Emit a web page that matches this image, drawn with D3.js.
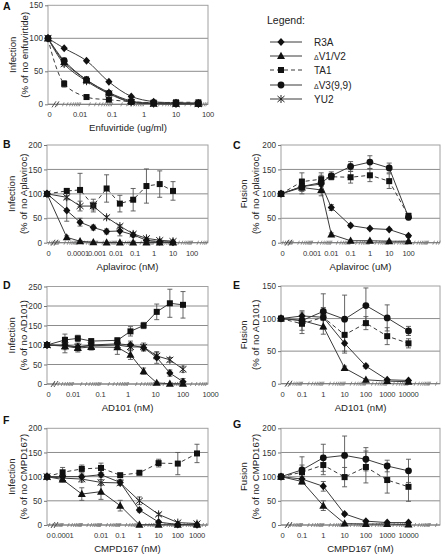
<!DOCTYPE html>
<html><head><meta charset="utf-8">
<script src="https://cdn.jsdelivr.net/npm/d3@7"></script>
<style>body{margin:0;background:#fff}svg{display:block;font-family:"Liberation Sans",Arial,sans-serif}</style>
</head><body><svg id="c" width="445" height="554"></svg>
<script>
// ---------------- DATA ----------------
const seriesNames = ["R3A", "V1/V2", "TA1", "V3(9,9)", "YU2"];
const seriesDelta = [false, true, false, true, false];
const markerTypes = ["diamond", "triangle", "square", "circle", "star"];

// A: Enfuvirtide (ug/ml), infection
const concA = [0, 0.0032, 0.016, 0.08, 0.4, 2, 10, 50];
const A_R3A = [100, 85, 66, 34, 12, 4, 2.5, 2];
const A_V1V2 = [100, 64, 37, 18, 5, 1, 1, 1];
const A_TA1 = [100, 31, 11, 7, 4, 2.5, 3, 3];
const A_V3 = [100, 66, 37, 17, 4, 2, 1, 1];
const A_YU2 = [100, 61, 35, 16, 3, 1, 0.5, 0.5];
const A_V1V2_err = [0, 6, 4, 2, 1, 0, 0, 0];
const A_TA1_err = [0, 5, 2, 1, 0, 0, 0, 0];
const A_V3_err = [0, 3, 5, 2, 1, 0, 0, 0];

// B: Aplaviroc (nM), infection
const concB = [0, 2.56e-5, 1.28e-4, 6.4e-4, 0.0032, 0.016, 0.08, 0.4, 2, 10];
const B_R3A = [100, 66, 42, 31, 23, 24, 16, 5, 2, 1];
const B_R3A_err = [0, 22, 8, 5, 5, 10, 4, 2, 0, 0];
const B_V1V2 = [100, 11, 3, 1, 0.5, 0.5, 0.5, 0.5, 0.5, 0.5];
const B_V1V2_err = [0, 3, 1, 0, 0, 0, 0, 0, 0, 0];
const B_TA1 = [100, 106, 108, 76, 111, 80, 88, 116, 120, 106];
const B_TA1_err = [0, 5, 34, 13, 28, 17, 23, 35, 27, 19];
const B_YU2 = [100, 93, 75, 75, 52, 34, 18, 9, 5, 3];
const B_YU2_err = [0, 3, 10, 8, 3, 3, 3, 2, 1, 1];

// C: Aplaviroc (uM), fusion
const concC = [0, 0.0003, 0.003, 0.01, 0.1, 1, 10, 100];
const C_R3A = [100, 115, 120, 72, 35, 29, 27, 14];
const C_R3A_err = [0, 5, 5, 6, 3, 2, 2, 3];
const C_V1V2 = [100, 113, 108, 17, 4, 4, 3, 3];
const C_V1V2_err = [0, 8, 12, 3, 1, 1, 1, 1];
const C_TA1 = [100, 125, 130, 135, 134, 138, 126, 55];
const C_TA1_err = [0, 18, 13, 6, 12, 13, 15, 5];
const C_V3 = [100, 115, 123, 137, 156, 165, 153, 52];
const C_V3_err = [0, 15, 15, 8, 10, 13, 10, 5];

// D: AD101 (nM), infection
const concD = [0, 0.0051, 0.015, 0.046, 0.41, 1.23, 3.7, 11.1, 33.3, 100];
const D_TA1 = [100, 113, 117, 110, 112, 135, 150, 185, 207, 203];
const D_TA1_err = [0, 15, 8, 5, 6, 12, 8, 20, 36, 34];
const D_V1V2 = [100, 97, 92, 95, 94, 75, 33, 3, 0.5, 0.5];
const D_V1V2_err = [0, 5, 10, 8, 18, 12, 8, 2, 0, 0];
const D_R3A = [100, 100, 95, 100, 103, 100, 93, 68, 28, 6];
const D_R3A_err = [0, 20, 10, 8, 8, 10, 8, 15, 8, 8];
const D_YU2 = [100, 98, 95, 98, 100, 95, 95, 72, 62, 38];
const D_YU2_err = [0, 10, 8, 8, 5, 10, 10, 8, 6, 8];

// E: AD101 (nM), fusion
const concE = [0, 0.1, 1, 10, 100, 1000, 10000];
const E_V3 = [100, 97, 111, 99, 120, 101, 81];
const E_V3_err = [0, 15, 27, 37, 27, 20, 7];
const E_TA1 = [100, 92, 102, 75, 93, 73, 62];
const E_TA1_err = [0, 15, 15, 25, 10, 13, 7];
const E_R3A = [100, 104, 102, 62, 27, 6, 5];
const E_R3A_err = [0, 6, 5, 15, 3, 1, 1];
const E_V1V2 = [100, 97, 88, 24, 6, 4, 3];
const E_V1V2_err = [0, 5, 12, 3, 1, 1, 1];

// F: CMPD167 (nM), infection
const concF = [0, 0.0001, 0.001, 0.01, 0.1, 1, 10, 100, 1000];
const F_TA1 = [100, 109, 116, 118, 103, 108, 128, 127, 148];
const F_TA1_err = [0, 10, 8, 10, 3, 3, 8, 23, 19];
const F_R3A = [100, 100, 100, 104, 88, 31, 6, 1, 0.5];
const F_R3A_err = [0, 3, 5, 5, 6, 4, 2, 1, 0];
const F_YU2 = [100, 97, 95, 88, 87, 50, 22, 5, 3];
const F_YU2_err = [0, 5, 6, 6, 5, 8, 3, 2, 1];
const F_V1V2 = [100, 94, 64, 69, 40, 0.5, 0.5, 0.5, 0.5];
const F_V1V2_err = [0, 5, 13, 16, 11, 0, 0, 0, 0];

// G: CMPD167 (nM), fusion
const concG = [0, 0.1, 1, 10, 100, 1000, 10000];
const G_V3 = [100, 114, 139, 144, 136, 122, 112];
const G_V3_err = [0, 27, 28, 40, 24, 12, 24];
const G_TA1 = [100, 109, 124, 99, 120, 93, 79];
const G_TA1_err = [0, 15, 20, 20, 33, 27, 30];
const G_R3A = [100, 95, 80, 23, 8, 5, 5];
const G_R3A_err = [0, 5, 10, 3, 2, 1, 1];
const G_V1V2 = [100, 90, 40, 3, 2, 2, 1];
const G_V1V2_err = [0, 5, 10, 1, 1, 1, 1];

// tick labels
const xTicksA = [0, 0.01, 0.1, 1, 10, 100];
const xTicksB = [0, 0.0001, 0.001, 0.01, 0.1, 1, 10, 100];
const xTicksC = [0, 0.001, 0.01, 0.1, 1, 10, 100];
const xTicksD = [0, 0.01, 0.1, 1, 10, 100, 1000];
const xTicksE = [0, 0.1, 1, 10, 100, 1000, 10000];
const xTicksF = [0, 0.0001, 0.01, 0.1, 1, 10, 100, 1000];
const xTicksG = [0, 0.1, 1, 10, 100, 1000, 10000];
const yTicks150 = [0, 50, 100, 150];
const yTicks200 = [0, 50, 100, 150, 200];
const yTicks250 = [0, 50, 100, 150, 200, 250];

// ---------------- LAYOUT ----------------
const svg = d3.select("#c");
const L = {l: 47, r: 208}, R = {l: 281, r: 440};
const panels = [
  {id: "A", lx: 3, ly: 10, x: {l: 48, r: 208}, top: 5.3, bottom: 104.3, xExp: [-3, 2], yTicks: yTicks150,
   xTicks: xTicksA, conc: concA, ytl: ["Infection", "(% of no enfuvirtide)"], ytx: [13, 25], xt: "Enfuvirtide (ug/ml)", smooth: true,
   series: [[2, A_TA1, A_TA1_err], [4, A_YU2, null], [3, A_V3, A_V3_err], [1, A_V1V2, A_V1V2_err], [0, A_R3A, null]]},
  {id: "B", lx: 3, ly: 148, x: L, top: 145, bottom: 242.7, xExp: [-5.632, 2.842], yTicks: yTicks200,
   xTicks: xTicksB, conc: concB, ytl: ["Infection", "(% of no Aplaviroc)"], ytx: [12, 24], xt: "Aplaviroc (nM)",
   series: [[2, B_TA1, B_TA1_err], [4, B_YU2, B_YU2_err], [0, B_R3A, B_R3A_err], [1, B_V1V2, B_V1V2_err]]},
  {id: "C", lx: 233, ly: 149, x: R, top: 145, bottom: 242.7, xExp: [-4.606, 3.632], yTicks: yTicks200,
   xTicks: xTicksC, conc: concC, ytl: ["Fusion", "(% of no Aplaviroc)"], ytx: [244, 256], xt: "Aplaviroc (uM)",
   series: [[2, C_TA1, C_TA1_err], [3, C_V3, C_V3_err], [0, C_R3A, C_R3A_err], [1, C_V1V2, C_V1V2_err]]},
  {id: "D", lx: 3, ly: 289, x: L, top: 286.5, bottom: 384, xExp: [-2.945, 2.909], yTicks: yTicks250,
   xTicks: xTicksD, conc: concD, ytl: ["Infection", "(% of no AD101)"], ytx: [12, 24], xt: "AD101 (nM)", solidTA1: true,
   series: [[2, D_TA1, D_TA1_err], [4, D_YU2, D_YU2_err], [0, D_R3A, D_R3A_err], [1, D_V1V2, D_V1V2_err]]},
  {id: "E", lx: 233, ly: 289, x: R, top: 286, bottom: 383.7, xExp: [-1.986, 5.479], yTicks: yTicks150,
   xTicks: xTicksE, conc: concE, ytl: ["Fusion", "(% of no AD101)"], ytx: [244, 256], xt: "AD101 (nM)",
   series: [[2, E_TA1, E_TA1_err], [3, E_V3, E_V3_err], [0, E_R3A, E_R3A_err], [1, E_V1V2, E_V1V2_err]]},
  {id: "F", lx: 3, ly: 424, x: L, top: 428.3, bottom: 525, xExp: [-4.8125, 3.573], yTicks: yTicks200,
   xTicks: xTicksF, conc: concF, ytl: ["Infection", "(% of no CMPD167)"], ytx: [12, 24], xt: "CMPD167 (nM)",
   series: [[2, F_TA1, F_TA1_err], [4, F_YU2, F_YU2_err], [0, F_R3A, F_R3A_err], [1, F_V1V2, F_V1V2_err]]},
  {id: "G", lx: 233, ly: 428, x: R, top: 428.3, bottom: 525, xExp: [-1.986, 5.479], yTicks: yTicks200,
   xTicks: xTicksG, conc: concG, ytl: ["Fusion", "(% of no CMPD167)"], ytx: [244, 256], xt: "CMPD167 (nM)",
   series: [[2, G_TA1, G_TA1_err], [3, G_V3, G_V3_err], [0, G_R3A, G_R3A_err], [1, G_V1V2, G_V1V2_err]]}
];

const LINE = "#3a3a3a", GRID = "#8c8c8c", FRAME = "#a0a0a0";
const TICKFS = 7.6, TITLEFS = 9.6;

function marker(g, type, x, y, s) {
  s = s || 1;
  if (type === "diamond") g.append("path").attr("d", `M${x},${y-4*s}L${x+3.6*s},${y}L${x},${y+4*s}L${x-3.6*s},${y}Z`).attr("fill", "#111");
  else if (type === "triangle") g.append("path").attr("d", `M${x},${y-4.2*s}L${x+4*s},${y+3*s}L${x-4*s},${y+3*s}Z`).attr("fill", "#111");
  else if (type === "square") g.append("rect").attr("x", x-3*s).attr("y", y-3*s).attr("width", 6*s).attr("height", 6*s).attr("fill", "#111");
  else if (type === "circle") g.append("circle").attr("cx", x).attr("cy", y).attr("r", 3.4*s).attr("fill", "#111");
  else if (type === "star") g.append("path").attr("d", `M${x},${y-4*s}V${y+4*s}M${x-3.5*s},${y-3*s}L${x+3.5*s},${y+3*s}M${x-3.5*s},${y+3*s}L${x+3.5*s},${y-3*s}`)
    .attr("stroke", "#222").attr("stroke-width", 1).attr("fill", "none");
}

function fmt(v) { return v === 0 ? "0" : String(v); }

panels.forEach(p => {
  const g = svg.append("g");
  const lo = Math.pow(10, p.xExp[0]), hi = Math.pow(10, p.xExp[1]);
  const x = d3.scaleLog().domain([lo, hi]).range([p.x.l, p.x.r]);
  const yMax = d3.max(p.yTicks);
  const y = d3.scaleLinear().domain([0, yMax]).range([p.bottom, p.top]);
  const xv = c => x(c === 0 ? lo : c);

  // grid lines
  g.selectAll(".grid").data(p.yTicks.filter(t => t > 0 && t < yMax)).enter().append("line")
    .attr("x1", p.x.l).attr("x2", p.x.r).attr("y1", d => y(d)).attr("y2", d => y(d))
    .attr("stroke", GRID).attr("stroke-width", 1);
  // frame
  g.append("rect").attr("x", p.x.l).attr("y", p.top).attr("width", p.x.r - p.x.l).attr("height", p.bottom - p.top)
    .attr("fill", "none").attr("stroke", FRAME).attr("stroke-width", 1);
  g.append("line").attr("x1", p.x.l).attr("x2", p.x.r).attr("y1", p.bottom).attr("y2", p.bottom).attr("stroke", "#777");

  // y axis ticks & labels
  const yAxis = d3.axisLeft(y).tickValues(p.yTicks).tickSize(3).tickPadding(2);
  const ya = g.append("g").attr("transform", `translate(${p.x.l},0)`).call(yAxis);
  ya.select(".domain").remove();
  ya.selectAll("line").attr("stroke", "#777");
  ya.selectAll("text").attr("font-size", 8.2).attr("fill", "#333").attr("font-family", "Liberation Sans, Arial, sans-serif");

  // x minor ticks (log)
  const minor = [];
  for (let k = Math.floor(p.xExp[0]); k <= Math.ceil(p.xExp[1]); k++)
    for (let m = 1; m <= 9; m++) { const v = m * Math.pow(10, k); if (v > lo * 1.05 && v < hi * 0.98) minor.push(v); }
  g.selectAll(".mn").data(minor).enter().append("line")
    .attr("x1", d => x(d) - 0.8).attr("x2", d => x(d) + 0.8).attr("y1", p.bottom + 2).attr("y2", p.bottom - 2)
    .attr("stroke", "#777").attr("stroke-width", 0.8);

  // x tick labels
  g.selectAll(".xt").data(p.xTicks).enter().append("text")
    .attr("x", d => d === 0 ? xv(0) + 1.5 : x(d)).attr("y", p.bottom + 13)
    .attr("text-anchor", "middle").attr("font-size", TICKFS).attr("letter-spacing", -0.2).attr("fill", "#333").text(fmt);

  // axis break
  [6, 9].forEach(o => g.append("line").attr("x1", p.x.l + o - 2).attr("y1", p.bottom + 3).attr("x2", p.x.l + o + 2).attr("y2", p.bottom - 3)
    .attr("stroke", "#444").attr("stroke-width", 0.9));

  // titles
  g.append("text").attr("x", (p.x.l + p.x.r) / 2).attr("y", p.bottom + 27).attr("text-anchor", "middle")
    .attr("font-size", TITLEFS).attr("fill", "#222").text(p.xt);
  const cy = (p.top + p.bottom) / 2;
  p.ytl.forEach((t, i) => g.append("text").attr("transform", `translate(${p.ytx[i]},${cy}) rotate(-90)`)
    .attr("text-anchor", "middle").attr("dy", "0.35em").attr("font-size", TITLEFS).attr("fill", "#222").text(t));
  g.append("text").attr("x", p.lx).attr("y", p.ly).attr("font-size", 10.5).attr("font-weight", "bold").attr("fill", "#111").text(p.id);

  // series lines
  const line = d3.line().x(d => xv(d[0])).y(d => y(d[1])).curve(p.smooth ? d3.curveCatmullRom.alpha(0.5) : d3.curveLinear);
  p.series.forEach(([si, vals]) => {
    const pts = p.conc.map((c, i) => [c, vals[i]]);
    const dashed = si === 2 && !p.solidTA1;
    g.append("path").attr("d", line(pts)).attr("fill", "none").attr("stroke", LINE).attr("stroke-width", 1)
      .attr("stroke-dasharray", dashed ? "4,3" : null);
  });
  // error bars
  p.series.forEach(([si, vals, errs]) => {
    if (!errs) return;
    p.conc.forEach((c, i) => {
      const e = errs[i]; if (!e) return;
      const cx = xv(c), y1 = y(vals[i] - e), y2 = y(vals[i] + e);
      g.append("line").attr("x1", cx).attr("x2", cx).attr("y1", y1).attr("y2", y2).attr("stroke", "#555").attr("stroke-width", 0.9);
      [y1, y2].forEach(yy => g.append("line").attr("x1", cx - 2.5).attr("x2", cx + 2.5).attr("y1", yy).attr("y2", yy).attr("stroke", "#555").attr("stroke-width", 0.9));
    });
  });
  // markers
  p.series.forEach(([si, vals]) => {
    p.conc.forEach((c, i) => marker(g, markerTypes[si], xv(c), y(vals[i])));
  });
});

// ---------------- LEGEND ----------------
const lg = svg.append("g");
lg.append("text").attr("x", 267).attr("y", 24).attr("font-size", 10.5).attr("fill", "#222").text("Legend:");
const legY = [42, 56, 70, 85, 99];
seriesNames.forEach((n, i) => {
  const yy = legY[i];
  lg.append("line").attr("x1", 270).attr("x2", 302).attr("y1", yy).attr("y2", yy).attr("stroke", LINE).attr("stroke-width", 1)
    .attr("stroke-dasharray", i === 2 ? "4,3" : null);
  marker(lg, markerTypes[i], 281, yy);
  const t = lg.append("text").attr("x", 314).attr("y", yy + 3.5).attr("font-size", 10).attr("fill", "#222");
  if (seriesDelta[i]) t.append("tspan").attr("font-size", 7).text("Δ");
  t.append("tspan").text(n);
});
</script></body></html>
